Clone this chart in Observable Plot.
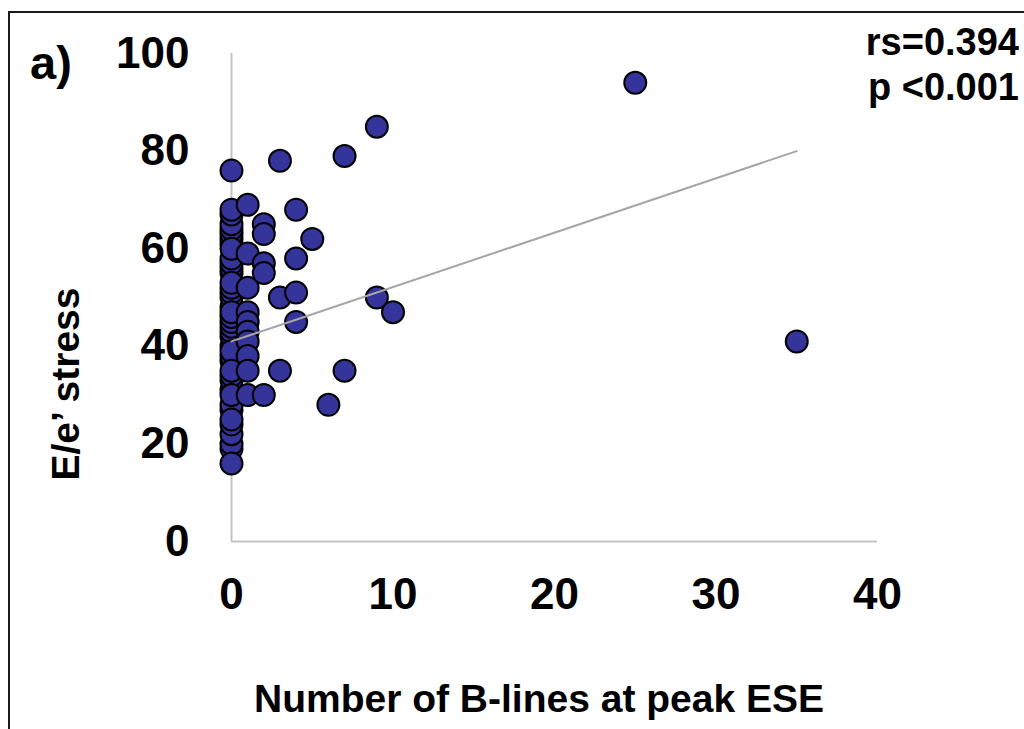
<!DOCTYPE html>
<html>
<head>
<meta charset="utf-8">
<script src="https://cdn.jsdelivr.net/npm/d3@7"></script>
<script src="https://cdn.jsdelivr.net/npm/@observablehq/plot@0.6"></script>
<style>
  html, body { margin: 0; padding: 0; background: #fff; }
  #wrap { position: relative; width: 1024px; height: 729px; overflow: hidden; background: #fff; }
  #frame { position: absolute; left: 8px; top: 11px; width: 1100px; height: 800px;
           border-top: 2px solid #1a1a1a; border-left: 2px solid #1a1a1a; }
  #chart { position: absolute; left: 0; top: 0; }
  #overlay { position: absolute; left: 0; top: 0; pointer-events: none; }
  #overlay text { font-family: "Liberation Sans", Arial, sans-serif; font-weight: bold; fill: #000; }
</style>
</head>
<body>
<div id="wrap">
  <div id="frame"></div>
  <div id="chart"></div>
  <svg id="overlay" width="1024" height="729"></svg>
</div>
<script>
// ---- data ----
const bLines = [
  // x = 0 column
  0,0,0,0,0,0,0,0,0,0,0,0,0,0,0,0,0,0,0,0,0,0,0,0,0,0,0,0,0,0,0,0,0,0,0,0,0,0,0,0,0,
  // x = 1
  1,1,1,1,1,1,1,1,1,1,
  // x = 2
  2,2,2,2,2,
  // x = 3
  3,3,3,
  // x = 4
  4,4,4,4,
  // others
  5,6,7,7,9,9,10,25,35
];
const eeStress = [
  19,20,22,24,27,28,31,33,34,37,38,40,42,43,44,45,46,48,50,51,52,55,56,57,58,61,62,63,64,65,67,
  76,68,60,53,47,39,35,30,25,16,
  69,59,52,47,45,43,41,38,35,30,
  65,63,57,55,30,
  78,50,35,
  68,58,51,45,
  62,28,79,35,85,50,47,94,41
];
const trendX = [0, 35];
const trendY = [41, 80];
const xTicks = [0, 10, 20, 30, 40];
const yTicks = [0, 20, 40, 60, 80, 100];
const xLabel = "Number of B-lines at peak ESE";
const yLabel = "E/e\u2019 stress";
const panelLabel = "a)";
const statLines = ["rs=0.394", "p <0.001"];

const points = bLines.map((b, i) => ({b, e: eeStress[i]}));
const trend = trendX.map((x, i) => ({x, y: trendY[i]}));

const chart = Plot.plot({
  width: 1024,
  height: 729,
  marginLeft: 231,
  marginRight: 147,
  marginTop: 53,
  marginBottom: 188,
  style: {
    fontFamily: "'Liberation Sans', Arial, sans-serif",
    fontSize: "44px",
    fontWeight: "bold",
    color: "#000",
    background: "transparent",
    overflow: "visible"
  },
  x: {domain: [0, 40], ticks: xTicks, tickSize: 0, tickPadding: 36, label: null},
  y: {domain: [0, 100], ticks: yTicks, tickSize: 0, tickPadding: 42, label: null},
  marks: [
    Plot.ruleX([0], {stroke: "#c3c3c3", strokeWidth: 2}),
    Plot.ruleY([0], {stroke: "#c3c3c3", strokeWidth: 2}),
    Plot.dot(points, {x: "b", y: "e", r: 11, fill: "#34349a", stroke: "#000", strokeWidth: 2}),
    Plot.line(trend, {x: "x", y: "y", stroke: "#a6a6a6", strokeWidth: 2})
  ]
});
document.getElementById("chart").appendChild(chart);

// ---- annotations ----
const ov = d3.select("#overlay");
ov.append("text").attr("x", 30).attr("y", 79).style("font-size", "47px").text(panelLabel);
ov.append("text").attr("x", 1019).attr("y", 55).attr("text-anchor", "end").style("font-size", "38px").text(statLines[0]);
ov.append("text").attr("x", 1019).attr("y", 100).attr("text-anchor", "end").style("font-size", "38px").text(statLines[1]);
ov.append("text").attr("x", 539).attr("y", 712).attr("text-anchor", "middle").style("font-size", "39px").text(xLabel);
ov.append("text").attr("transform", "translate(79,384) rotate(-90)").attr("text-anchor", "middle").style("font-size", "39px").text(yLabel);
</script>
</body>
</html>
